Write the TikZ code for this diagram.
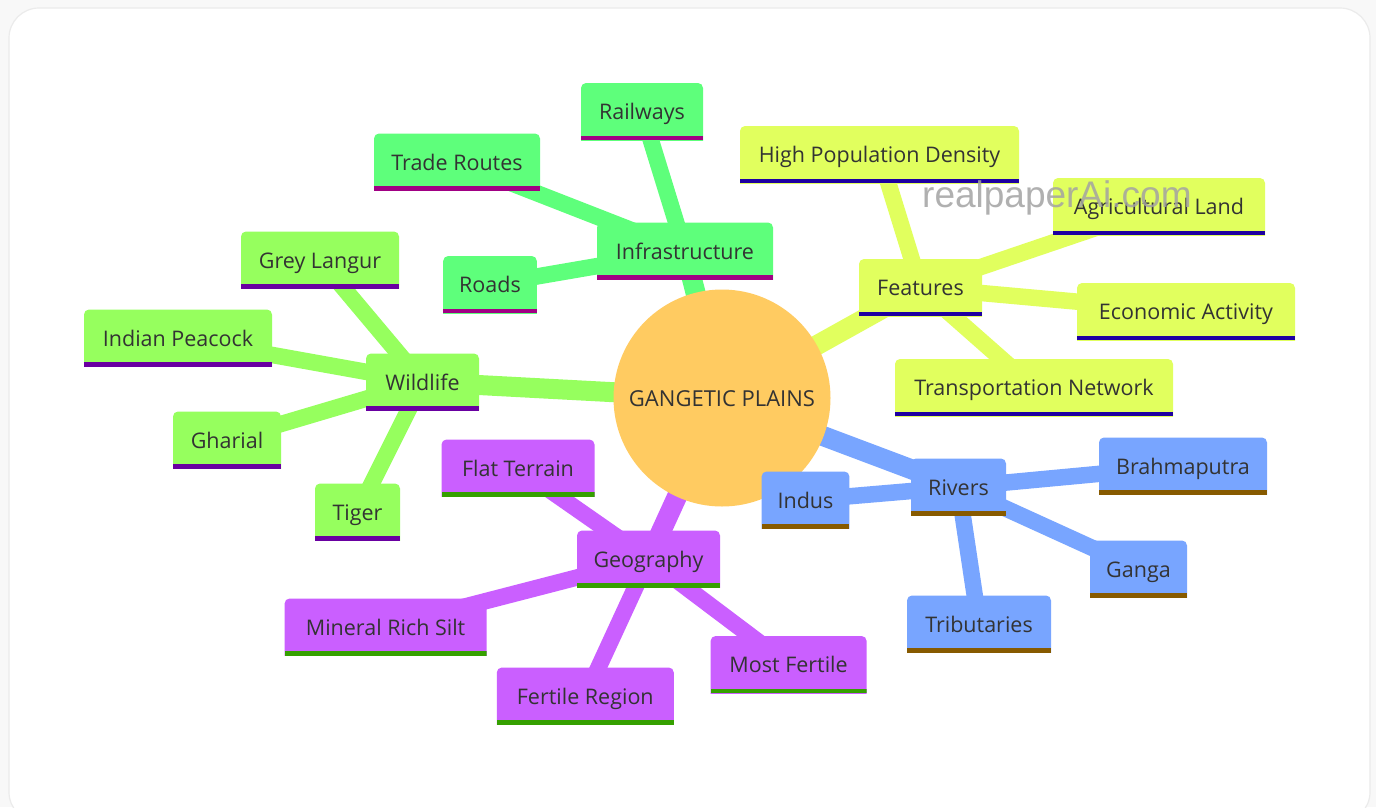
\documentclass[tikz,border=0pt]{standalone}
\usepackage{fontspec}
\setmainfont{Open Sans}
\newfontfamily\wmfont{Liberation Sans}
\definecolor{pagebg}{HTML}{F8F8F8}
\definecolor{frameline}{HTML}{EBEBEB}
\definecolor{rootc}{HTML}{FFCB61}
\definecolor{txt}{HTML}{333333}
\definecolor{infc}{HTML}{5EFF7B}
\definecolor{infl}{HTML}{A10084}
\definecolor{feac}{HTML}{E1FF5E}
\definecolor{feal}{HTML}{1E00A1}
\definecolor{rivc}{HTML}{78A5FF}
\definecolor{rivl}{HTML}{875A00}
\definecolor{geoc}{HTML}{CA5FFF}
\definecolor{geol}{HTML}{35A000}
\definecolor{wilc}{HTML}{96FF5E}
\definecolor{will}{HTML}{6900A1}
\definecolor{wmgray}{HTML}{A3A3A3}
\pgfdeclarelayer{frm}
\pgfdeclarelayer{edges}
\pgfsetlayers{frm,edges,main}
\tikzset{
  mm/.style 2 args={rectangle, minimum height=57pt, inner xsep=16pt, inner ysep=0pt,
    text height=16pt, text depth=0pt,
    text=txt, font=\fontsize{21.5}{25}\selectfont,
    path picture={
      \fill[#1, rounded corners=5pt]
        ([yshift=-12pt]path picture bounding box.south west) --
        (path picture bounding box.north west) --
        (path picture bounding box.north east) --
        ([yshift=-12pt]path picture bounding box.south east) -- cycle;
      \fill[#2] (path picture bounding box.south west) rectangle
        ([yshift=4.5pt]path picture bounding box.south east);
    }},
  sinf/.style={mm={infc}{infl}},
  sfea/.style={mm={feac}{feal}},
  sriv/.style={mm={rivc}{rivl}},
  sgeo/.style={mm={geoc}{geol}},
  swil/.style={mm={wilc}{will}},
  rootnode/.style={circle, fill=rootc, minimum size=217pt, inner sep=0pt,
    text height=17pt, text depth=0pt,
    text=txt, font=\fontsize{22}{26}\selectfont},
  edgeA/.style={line width=20pt},
  edgeB/.style={line width=16.5pt},
}
\begin{document}
\begin{tikzpicture}[x=1pt,y=-1pt]
\useasboundingbox (0,0) rectangle (1376,807);
\begin{pgfonlayer}{frm}
\fill[pagebg] (0,0) rectangle (1376,807);
\filldraw[fill=white, draw=frameline, line width=1.2pt, rounded corners=30pt] (9,8) rectangle (1370,822);
\end{pgfonlayer}

\node[rootnode] (root) at (722,398) {GANGETIC PLAINS};

% Infrastructure
\node[sinf, minimum width=176pt] (infra) at (685,251) {Infrastructure};
\node[sinf, minimum width=122pt] (rail) at (642,111.5) {Railways};
\node[sinf, minimum width=166pt] (trade) at (457,162) {Trade Routes};
\node[sinf, minimum width=92pt] (roads) at (490,284.5) {Roads};

% Features
\node[sfea, minimum width=123pt] (feat) at (920.5,287.5) {Features};
\node[sfea, minimum width=279pt] (hpd) at (879.5,154.5) {High Population Density};
\node[sfea, minimum width=212pt] (agri) at (1159,206.5) {Agricultural Land};
\node[sfea, minimum width=218pt] (econ) at (1186,311.5) {Economic Activity};
\node[sfea, minimum width=278pt] (trans) at (1034,387.5) {Transportation Network};

% Rivers
\node[sriv, minimum width=95pt] (riv) at (958.5,487) {Rivers};
\node[sriv, minimum width=87pt] (indus) at (805.5,500) {Indus};
\node[sriv, minimum width=168pt] (brah) at (1183,466) {Brahmaputra};
\node[sriv, minimum width=97pt] (ganga) at (1138.5,569) {Ganga};
\node[sriv, minimum width=144pt] (trib) at (979,624) {Tributaries};

% Geography
\node[sgeo, minimum width=143pt] (geo) at (648.5,559) {Geography};
\node[sgeo, minimum width=153pt] (flat) at (518,468) {Flat Terrain};
\node[sgeo, minimum width=202pt] (silt) at (385.6,627) {Mineral Rich Silt};
\node[sgeo, minimum width=177pt] (fert) at (585.3,696) {Fertile Region};
\node[sgeo, minimum width=156pt] (most) at (788.6,664.5) {Most Fertile};

% Wildlife
\node[swil, minimum width=113pt] (wild) at (422.5,382) {Wildlife};
\node[swil, minimum width=158pt] (langur) at (320,260) {Grey Langur};
\node[swil, minimum width=188pt] (peacock) at (178,338) {Indian Peacock};
\node[swil, minimum width=108pt] (gharial) at (227,440) {Gharial};
\node[swil, minimum width=85pt] (tiger) at (357.5,512) {Tiger};

\begin{pgfonlayer}{edges}
\draw[edgeA, infc] (root.center) -- (infra.center);
\draw[edgeB, infc] (infra.center) -- (rail.center);
\draw[edgeB, infc] (infra.center) -- (trade.center);
\draw[edgeB, infc] (infra.center) -- (roads.center);
\draw[edgeA, feac] (root.center) -- (feat.center);
\draw[edgeB, feac] (feat.center) -- (hpd.center);
\draw[edgeB, feac] (feat.center) -- (agri.center);
\draw[edgeB, feac] (feat.center) -- (econ.center);
\draw[edgeB, feac] (feat.center) -- (trans.center);
\draw[edgeA, rivc] (root.center) -- (riv.center);
\draw[edgeB, rivc] (riv.center) -- (indus.center);
\draw[edgeB, rivc] (riv.center) -- (brah.center);
\draw[edgeB, rivc] (riv.center) -- (ganga.center);
\draw[edgeB, rivc] (riv.center) -- (trib.center);
\draw[edgeA, geoc] (root.center) -- (geo.center);
\draw[edgeB, geoc] (geo.center) -- (flat.center);
\draw[edgeB, geoc] (geo.center) -- (silt.center);
\draw[edgeB, geoc] (geo.center) -- (fert.center);
\draw[edgeB, geoc] (geo.center) -- (most.center);
\draw[edgeA, wilc] (root.center) -- (wild.center);
\draw[edgeB, wilc] (wild.center) -- (langur.center);
\draw[edgeB, wilc] (wild.center) -- (peacock.center);
\draw[edgeB, wilc] (wild.center) -- (gharial.center);
\draw[edgeB, wilc] (wild.center) -- (tiger.center);
\end{pgfonlayer}

\node[font=\wmfont\fontsize{37}{40}\selectfont, text=wmgray, opacity=0.85, anchor=base west, inner sep=0pt] (wm) at (922,207) {realpaperAi.com};
\end{tikzpicture}
\end{document}
